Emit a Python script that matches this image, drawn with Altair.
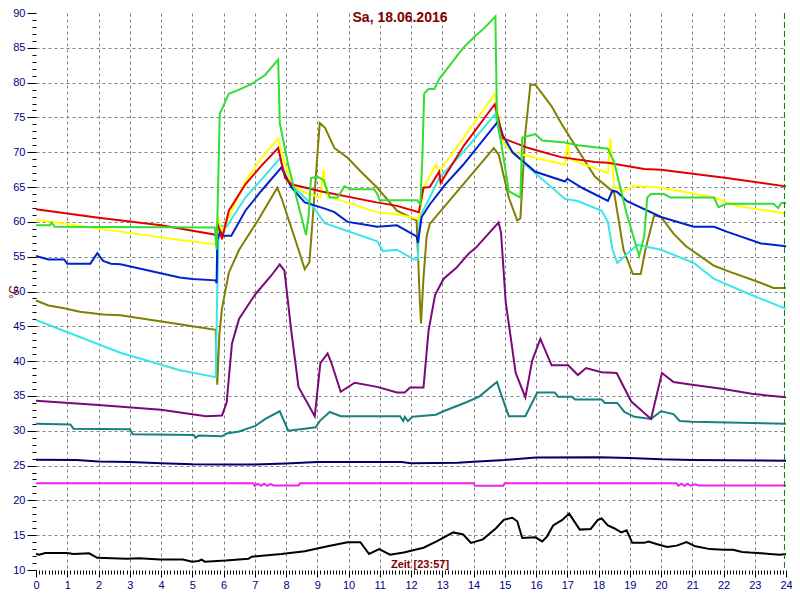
import altair as alt
import pandas as pd

TITLE = "Sa, 18.06.2016"
TIME_LABEL = "Zeit [23:57]"
Y_TITLE = "°C"
NOW_HOUR = 23.95
X_DOMAIN = [0, 24]
Y_DOMAIN = [10, 90]
X_TICKS = [round(i * 0.1, 1) for i in range(241)]
Y_TICKS = list(range(10, 91))

# [hour, value] pairs
red = [[0, 61.8], [2, 60.6], [4, 59.5], [5.7, 58.2], [5.75, 58.0], [5.82, 59.6], [5.9, 58.5],
       [5.95, 57.5], [6.17, 61.6], [6.7, 65.4], [7.2, 68.0], [7.75, 70.6], [7.97, 66.3],
       [8.17, 65.4], [9.1, 64.4], [10.9, 62.8], [11.55, 62.3], [12.25, 61.4], [12.4, 64.9],
       [12.6, 65.0], [12.9, 67.2], [12.95, 65.6], [13.7, 71.0], [14.68, 76.9], [14.94, 72.0],
       [15.76, 70.6], [16.8, 69.3], [17.88, 68.6], [18.3, 68.5], [19.46, 67.6], [20, 67.5],
       [22.1, 66.3], [24, 65.1]]

yellow = [[0, 60.3], [2.7, 58.6], [4.6, 57.4], [5.75, 56.8], [5.83, 60.7], [5.95, 58.3],
          [6.17, 60.7], [6.7, 65.8], [7.2, 69.1], [7.75, 72.0], [7.85, 70.0], [8.17, 65.4],
          [8.6, 64.2], [9.1, 63.5], [9.2, 67.5], [9.3, 63.7], [10.9, 61.4], [11.55, 61.1],
          [12.25, 60.4], [12.4, 64.9], [12.8, 68.2], [12.9, 67.2], [13.67, 72.0], [14.68, 78.4],
          [14.94, 71.4], [15.25, 70.0], [16.93, 68.2], [17.0, 71.3], [17.1, 69.0], [18.3, 67.0],
          [18.38, 72.0], [18.5, 65.0], [18.8, 64.4], [19.15, 65.2], [20, 64.9], [21.7, 63.5],
          [22.4, 62.3], [24, 61.2]]

green = [[0, 59.5], [0.45, 59.5], [0.5, 59.9], [0.6, 59.3], [5.72, 59.2], [5.78, 56.0],
         [5.88, 75.5], [6.17, 78.4], [6.5, 79.0], [6.9, 79.8], [7.33, 81.1], [7.75, 83.3],
         [7.8, 74.2], [8.07, 68.2], [8.64, 58.1], [8.72, 60.7], [8.8, 66.3], [9.0, 66.5],
         [9.2, 66.0], [9.4, 63.5], [9.65, 63.5], [9.87, 65.1], [10.07, 64.7], [10.82, 64.7],
         [10.92, 64.0], [11.0, 63.1], [12.2, 63.1], [12.3, 62.5], [12.37, 70.0], [12.42, 78.4],
         [12.56, 79.1], [12.75, 79.1], [12.9, 80.5], [13.67, 85.0], [14.08, 86.8], [14.34, 87.8],
         [14.7, 89.5], [14.75, 75.2], [15.13, 64.4], [15.5, 63.5], [15.56, 72.1], [15.98, 72.6],
         [16.2, 71.7], [16.93, 71.4], [17.34, 71.0], [18.3, 70.5], [18.5, 68.6], [18.9, 61.2],
         [19.3, 55.1], [19.46, 57.9], [19.56, 63.5], [19.68, 64.0], [20.1, 64.0], [20.3, 63.5],
         [21.7, 63.5], [21.84, 62.1], [22.1, 62.6], [23.6, 62.6], [23.75, 62.0], [23.85, 62.7],
         [24, 62.7]]

cyan = [[0, 45.9], [2.7, 41.2], [4.6, 38.7], [5.75, 37.7], [5.8, 50.0], [5.85, 59.5],
        [6.1, 59.3], [6.7, 63.5], [7.2, 66.0], [7.8, 69.1], [8.07, 65.8], [8.8, 62.6],
        [9.24, 59.8], [10.92, 57.2], [11.1, 55.8], [11.55, 56.0], [12.1, 54.6], [12.22, 54.6],
        [12.28, 60.7], [12.6, 63.5], [12.9, 66.3], [13.67, 70.0], [14.7, 75.5], [14.85, 72.0],
        [15.25, 70.0], [15.76, 67.8], [16.93, 63.3], [17.34, 63.0], [18.1, 61.6], [18.3, 60.0],
        [18.45, 56.0], [18.6, 54.1], [19.24, 56.7], [20, 56.0], [21.05, 54.1], [21.7, 51.8],
        [22.63, 50.0], [24, 47.5]]

blue = [[0, 55.1], [0.4, 54.6], [0.9, 54.6], [1.0, 54.0], [1.74, 54.0], [1.96, 55.5],
        [2.15, 54.4], [2.4, 54.0], [2.7, 53.9], [4.6, 52.0], [5.0, 51.8], [5.75, 51.6],
        [5.78, 51.2], [5.8, 57.4], [5.9, 58.6], [6.0, 58.0], [6.25, 58.0], [6.7, 61.6],
        [7.2, 64.4], [7.85, 67.8], [8.17, 65.0], [8.6, 62.8], [9.24, 61.9], [9.55, 61.4],
        [9.97, 60.0], [10.4, 59.7], [10.92, 59.3], [11.55, 59.5], [12.18, 57.9], [12.22, 57.0],
        [12.34, 60.7], [12.6, 62.5], [13.1, 65.4], [13.67, 68.2], [14.8, 74.5], [14.94, 72.4],
        [15.25, 70.0], [15.98, 67.2], [16.93, 65.8], [17.0, 66.2], [17.47, 64.9], [18.3, 63.0],
        [18.45, 64.5], [18.6, 64.3], [18.9, 63.0], [20, 60.7], [21.05, 59.3], [21.7, 59.3],
        [22.1, 58.6], [23.2, 56.9], [24, 56.5]]

olive = [[0, 48.7], [0.4, 48.0], [0.9, 47.6], [1.4, 47.1], [2.15, 46.7], [2.7, 46.6],
         [4.6, 45.3], [5.0, 45.0], [5.75, 44.5], [5.8, 36.6], [5.87, 44.0], [5.95, 47.5],
         [6.17, 52.7], [6.5, 56.0], [7.1, 60.2], [7.72, 64.9], [7.85, 63.5], [8.3, 57.4],
         [8.6, 53.2], [8.75, 54.2], [8.92, 64.4], [9.08, 74.2], [9.25, 73.5], [9.55, 70.6],
         [9.97, 69.2], [10.4, 67.2], [10.92, 64.9], [11.55, 61.6], [12.18, 60.2], [12.28, 49.0],
         [12.32, 45.4], [12.4, 52.0], [12.5, 57.9], [12.6, 59.7], [13.67, 65.4], [14.65, 70.6],
         [14.81, 69.6], [15.13, 63.5], [15.4, 60.2], [15.5, 60.5], [15.66, 72.8], [15.82, 79.7],
         [15.98, 79.7], [16.5, 76.6], [16.8, 74.2], [17.88, 66.5], [18.5, 64.2], [18.8, 56.0],
         [19.1, 52.5], [19.35, 52.5], [19.5, 56.0], [19.78, 60.9], [20.0, 60.7], [20.4, 58.3],
         [20.8, 56.5], [21.7, 53.7], [22.1, 53.0], [23.16, 51.3], [23.6, 50.5], [24, 50.5]]

purple = [[0, 34.3], [2, 33.7], [4, 33.0], [5.44, 32.1], [5.95, 32.2], [6.1, 34.0],
          [6.27, 42.5], [6.5, 46.1], [7.0, 49.5], [7.53, 52.3], [7.8, 53.9], [7.95, 53.0],
          [8.17, 44.3], [8.4, 36.3], [8.92, 32.1], [9.1, 39.7], [9.33, 41.1], [9.45, 39.8],
          [9.75, 35.6], [10.2, 36.9], [10.92, 36.3], [11.55, 35.5], [11.8, 35.5], [11.97, 36.2],
          [12.4, 36.2], [12.56, 44.3], [12.77, 49.5], [13.04, 51.8], [13.45, 53.4], [13.86, 55.5],
          [14.08, 56.3], [14.8, 59.9], [14.88, 58.5], [15.03, 48.5], [15.35, 38.3], [15.66, 34.8],
          [15.88, 40.1], [16.14, 43.2], [16.5, 39.4], [17.03, 39.4], [17.34, 38.0], [17.6, 39.0],
          [18.1, 38.4], [18.58, 38.3], [19.05, 34.2], [19.68, 31.7], [20.03, 38.3], [20.4, 37.0],
          [21.0, 36.6], [22.0, 36.0], [22.9, 35.3], [24, 34.8]]

teal = [[0, 31.0], [1.1, 30.9], [1.2, 30.3], [3.0, 30.2], [3.1, 29.5], [5.05, 29.4],
        [5.1, 29.0], [5.2, 29.3], [5.95, 29.2], [6.1, 29.6], [6.5, 29.9], [7.02, 30.7],
        [7.34, 31.7], [7.8, 32.8], [8.07, 30.0], [8.6, 30.3], [8.95, 30.5], [9.1, 31.5],
        [9.4, 32.7], [9.75, 32.1], [11.65, 32.1], [11.75, 31.4], [11.8, 32.0], [11.9, 31.4],
        [12.05, 32.0], [12.8, 32.3], [13.04, 32.8], [13.77, 34.1], [14.18, 34.9], [14.75, 37.0],
        [14.9, 35.0], [15.13, 32.1], [15.66, 32.1], [16.04, 35.5], [16.6, 35.5], [16.7, 34.9],
        [17.15, 34.9], [17.25, 34.5], [18.1, 34.5], [18.2, 34.0], [18.6, 34.0], [18.83, 32.7],
        [19.15, 32.0], [19.68, 31.7], [20.0, 32.8], [20.4, 32.4], [20.6, 31.4], [21.0, 31.3],
        [24, 31.0]]

navy = [[0, 25.85], [1.3, 25.8], [2.0, 25.6], [3.0, 25.5], [4.0, 25.35], [5.0, 25.2],
        [6.0, 25.15], [7.0, 25.15], [8.0, 25.3], [9.0, 25.5], [11.7, 25.5], [12.0, 25.35],
        [13.5, 25.4], [14.0, 25.55], [15.0, 25.8], [16.0, 26.15], [18.0, 26.2], [19.0, 26.1],
        [20.0, 25.9], [21.0, 25.8], [24.0, 25.7]]

magenta = [[0, 22.45], [6.95, 22.45], [7.0, 22.1], [7.1, 22.4], [7.2, 22.1], [7.3, 22.4],
           [7.4, 22.1], [7.5, 22.35], [7.6, 22.15], [8.4, 22.15], [8.45, 22.45], [14.0, 22.45],
           [14.05, 22.1], [14.95, 22.1], [15.0, 22.45], [20.5, 22.45], [20.55, 22.1],
           [20.65, 22.4], [20.75, 22.1], [20.85, 22.4], [20.95, 22.1], [21.1, 22.3],
           [21.2, 22.15], [24, 22.15]]

black = [[0, 12.3], [0.1, 12.2], [0.3, 12.45], [1.0, 12.45], [1.2, 12.3], [1.7, 12.4],
         [1.96, 11.75], [2.9, 11.6], [3.3, 11.7], [3.96, 11.5], [4.4, 11.5], [4.7, 11.5],
         [5.0, 11.2], [5.2, 11.3], [5.3, 11.5], [5.4, 11.2], [6.07, 11.35], [6.8, 11.6],
         [6.9, 11.9], [7.85, 12.3], [8.6, 12.7], [9.33, 13.4], [9.97, 14.0], [10.38, 14.0],
         [10.66, 12.3], [10.98, 13.0], [11.33, 12.2], [11.77, 12.5], [12.4, 13.2], [12.82, 14.1],
         [13.35, 15.4], [13.67, 15.1], [13.92, 13.9], [14.3, 14.4], [14.72, 16.0], [14.97, 17.2],
         [15.24, 17.5], [15.4, 17.0], [15.56, 14.6], [15.98, 14.7], [16.2, 14.1], [16.35, 14.8],
         [16.55, 16.4], [16.84, 17.2], [17.06, 18.1], [17.4, 15.8], [17.75, 15.9], [17.98, 17.2],
         [18.1, 17.4], [18.3, 16.4], [18.5, 16.0], [18.73, 15.4], [18.9, 15.7], [19.08, 13.9],
         [19.46, 13.9], [19.6, 14.1], [19.88, 13.7], [20.2, 13.3], [20.5, 13.5], [20.82, 14.0],
         [21.1, 13.4], [21.57, 13.0], [22.0, 12.9], [22.3, 12.9], [22.6, 12.6], [22.85, 12.5],
         [23.2, 12.4], [23.48, 12.3], [23.8, 12.2], [24, 12.3]]

series_defs = [
    ("black", black, "#000000"),
    ("magenta", magenta, "#ee22ee"),
    ("navy", navy, "#000066"),
    ("teal", teal, "#1a7f7f"),
    ("purple", purple, "#7a0a7a"),
    ("olive", olive, "#808000"),
    ("cyan", cyan, "#3ae6e6"),
    ("yellow", yellow, "#ffff00"),
    ("blue", blue, "#0022cc"),
    ("red", red, "#e00000"),
    ("green", green, "#33dd33"),
]

rows = []
for name, pts, _ in series_defs:
    for k, (h, v) in enumerate(pts):
        rows.append({"s": name, "h": h, "v": v, "k": k})
df = pd.DataFrame(rows)

W, H = 750, 557
PAD = {"left": 28, "top": 5, "right": 6, "bottom": 22}

is_int = "abs(datum.value - round(datum.value)) < 0.01"
is5 = "datum.value % 5 === 0"

x_scale = alt.Scale(domain=X_DOMAIN, nice=False, zero=False)
y_scale = alt.Scale(domain=Y_DOMAIN, nice=False, zero=False)

x_axis = alt.Axis(
    values=X_TICKS, title=None, domain=False,
    labelExpr=f"{is_int} ? format(round(datum.value), 'd') : ''",
    labelOverlap=False, labelFlush=False, labelBound=False,
    labelColor="#000080", labelFont="Liberation Sans", labelFontSize=11, labelPadding=2,
    tickColor="#000000", tickWidth=1,
    tickSize={"condition": {"test": is_int, "value": 7}, "value": 4},
    grid=True, gridColor="#808080", gridDash=[3, 3], gridWidth=1,
    gridOpacity={"condition": {"test": f"{is_int} && datum.value > 0.5 && datum.value < 23.5", "value": 1}, "value": 0},
)
y_axis = alt.Axis(
    values=Y_TICKS, title=Y_TITLE, domain=False,
    labelExpr=f"{is5} ? datum.label : ''",
    labelOverlap=False, labelFlush=False, labelBound=False,
    labelColor="#000080", labelFont="Liberation Sans", labelFontSize=11, labelPadding=2,
    tickColor="#000000", tickWidth=1,
    tickSize={"condition": {"test": is5, "value": 9}, "value": 4},
    grid=True, gridColor="#808080", gridDash=[3, 3], gridWidth=1,
    gridOpacity={"condition": {"test": f"{is5} && datum.value > 10 && datum.value < 90", "value": 1}, "value": 0},
    titleColor="#800000", titleFont="Liberation Sans", titleFontSize=12, titleFontWeight="normal",
    titleX=-19, titleY=H / 2, titleAngle=270, titleAlign="center", titleBaseline="alphabetic",
)

base = alt.Chart(df).encode(
    x=alt.X("h:Q", axis=x_axis, scale=x_scale),
    y=alt.Y("v:Q", axis=y_axis, scale=y_scale),
    order="k:Q",
)

layers = [
    base.transform_filter(alt.datum.s == name).mark_line(color=col, strokeWidth=2)
    for name, _, col in series_defs
]

now_rule = alt.Chart(pd.DataFrame({"h": [NOW_HOUR]})).mark_rule(
    color="#008000", strokeDash=[6, 3], strokeWidth=1
).encode(x=alt.X("h:Q", axis=x_axis, scale=x_scale))

title_layer = alt.Chart(pd.DataFrame({"t": [TITLE]})).mark_text(
    font="Liberation Sans", fontSize=14, fontWeight="bold", color="#800000", baseline="middle"
).encode(text="t:N", x=alt.value(364), y=alt.value(5))

time_layer = alt.Chart(pd.DataFrame({"t": [TIME_LABEL]})).mark_text(
    font="Liberation Sans", fontSize=11, fontWeight="bold", color="#800000", baseline="middle"
).encode(text="t:N", x=alt.value(384), y=alt.value(H - 5))

chart = alt.layer(*layers, now_rule, title_layer, time_layer).properties(
    width=W, height=H, autosize=alt.AutoSizeParams(type="none"), padding=PAD, background="white"
).configure_view(strokeWidth=0)

chart.save("out.html", embed_options={"renderer": "svg", "actions": False})
